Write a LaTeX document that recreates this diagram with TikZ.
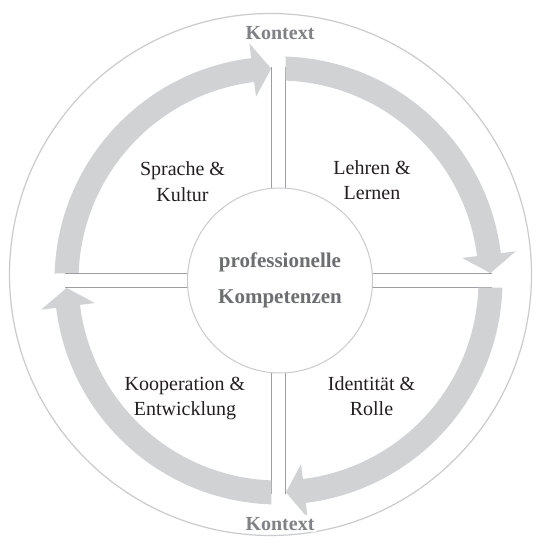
\documentclass[tikz,border=0pt]{standalone}
\usepackage{fontspec}
\setmainfont{Liberation Serif}
\definecolor{bandfill}{HTML}{D0D2D4}
\definecolor{divcol}{HTML}{9C9EA1}
\definecolor{ringcol}{HTML}{C9CBCD}
\definecolor{labelcol}{HTML}{231F20}
\definecolor{centercol}{HTML}{6D6E71}
\definecolor{kontextcol}{HTML}{808285}
\tikzset{
  band/.style={fill=bandfill},
  divline/.style={draw=divcol, line width=1.2pt},
  ring/.style={draw=ringcol, line width=1.2pt},
  quadlabel/.style={text=labelcol, align=center, inner sep=0pt, anchor=base,
    font=\fontsize{20}{25}\selectfont},
  centerlabel/.style={text=centercol, align=center, inner sep=0pt, anchor=base,
    font=\bfseries\fontsize{21}{36}\selectfont},
  kontextlabel/.style={text=kontextcol, fill=white, inner sep=2pt, anchor=base,
    font=\bfseries\fontsize{20}{24}\selectfont}
}
\begin{document}
\begin{tikzpicture}[x=1pt,y=1pt]
\useasboundingbox (-278.5,-263.5) rectangle (264.5,280.5);
\fill[white] (-278.5,-263.5) rectangle (264.5,280.5);
% outer ring
\draw[ring] (-8,6) circle[radius=261];
% arrows and dividing lines
\foreach \r in {0,-90,-180,-270}{
  \begin{scope}[rotate=\r]
    \fill[band] (-223.89,7) arc[start angle=178.21, end angle=97, radius=224]
      -- (97:239) -- (92:212) -- (97:185) -- (97:200)
      arc[start angle=97, end angle=177.99, radius=200] -- cycle;
    \draw[divline] (-7,60) -- (-7,213);
    \draw[divline] (7,60) -- (7,213);
  \end{scope}
}
% centre circle
\node[circle, draw=ringcol, line width=1pt, fill=white, minimum size=185pt, inner sep=0pt] (core) at (1.5,0) {};
\node[centerlabel] (kern) at (1.5,-22.5) {professionelle\\Kompetenzen};
% quadrant labels
\node[quadlabel] (sprache) at (-96,79.5) {Sprache \&\\Kultur};
\node[quadlabel] (lehren) at (93.5,81) {Lehren \&\\Lernen};
\node[quadlabel] (koop) at (-93.5,-134.5) {Kooperation \&\\Entwicklung};
\node[quadlabel] (ident) at (93,-134.5) {Identität \&\\Rolle};
% context labels
\node[kontextlabel] (ktop) at (1.5,240.5) {Kontext};
\node[kontextlabel] (kbot) at (1.5,-249.5) {Kontext};
\end{tikzpicture}
\end{document}
